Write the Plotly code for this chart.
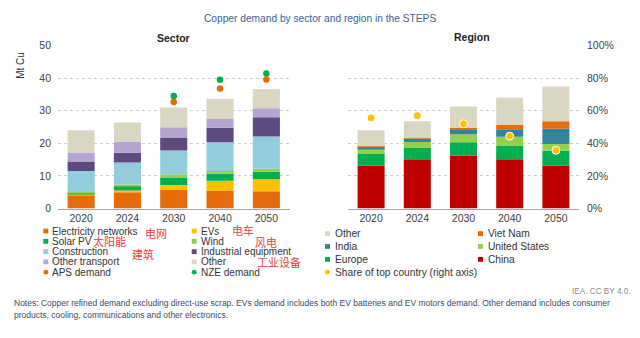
import plotly.graph_objects as go

W, H = 640, 338
def px(x): return x / W
def py(y): return 1 - y / H

years = ["2020", "2024", "2030", "2040", "2050"]

# Sector demand (Mt Cu)
elec_networks = [4.1, 5.0, 5.7, 5.5, 5.3]
evs = [0.2, 0.5, 1.5, 3.0, 3.7]
solar_pv = [0.5, 1.4, 2.3, 2.2, 2.4]
wind = [0.3, 0.5, 1.0, 0.8, 0.8]
construction = [6.4, 6.7, 7.3, 8.8, 9.9]
industrial = [2.9, 3.0, 3.8, 4.5, 5.9]
other_transport = [2.8, 3.4, 3.3, 2.7, 2.8]
other_sector = [6.8, 5.9, 6.1, 6.1, 5.9]
aps_demand = [None, None, 32.7, 36.8, 39.6]
nze_demand = [None, None, 34.5, 39.5, 41.4]

# Region demand (Mt Cu)
china = [13.2, 15.1, 16.2, 15.1, 13.2]
europe = [3.5, 3.5, 4.1, 4.2, 4.5]
united_states = [1.7, 1.8, 2.5, 2.7, 2.1]
india = [0.6, 1.1, 1.5, 2.3, 4.7]
viet_nam = [0.1, 0.2, 0.5, 1.3, 2.3]
other_region = [4.9, 5.1, 6.5, 8.4, 10.6]
share_top = [55.6, 57.0, 52.0, 44.4, 35.7]

pct_ticks = [0, 20, 40, 60, 80, 100]
pct_labels = ["0%", "20%", "40%", "60%", "80%", "100%"]

C_ORANGE = "#E46C0A"
C_YELLOW = "#FFC000"
C_GREEN = "#00B050"
C_LGREEN = "#92D050"
C_LBLUE = "#93CDDD"
C_DPURPLE = "#5C4A80"
C_LPURPLE = "#B3A5CF"
C_BEIGE = "#D9D6C4"
C_INDIA = "#31849B"
C_CHINA = "#C00000"

fig = go.Figure()

sector_series = [
    ("Electricity networks", elec_networks, C_ORANGE),
    ("EVs", evs, C_YELLOW),
    ("Solar PV", solar_pv, C_GREEN),
    ("Wind", wind, C_LGREEN),
    ("Construction", construction, C_LBLUE),
    ("Industrial equipment", industrial, C_DPURPLE),
    ("Other transport", other_transport, C_LPURPLE),
    ("Other", other_sector, C_BEIGE),
]
for name, vals, col in sector_series:
    fig.add_trace(go.Bar(x=years, y=vals, name=name, marker=dict(color=col, line=dict(width=0)),
                         xaxis="x", yaxis="y", showlegend=False))
fig.add_trace(go.Scatter(x=years, y=aps_demand, mode="markers", name="APS demand",
                         marker=dict(color=C_ORANGE, size=6.5), xaxis="x", yaxis="y", showlegend=False))
fig.add_trace(go.Scatter(x=years, y=nze_demand, mode="markers", name="NZE demand",
                         marker=dict(color=C_GREEN, size=6.5), xaxis="x", yaxis="y", showlegend=False))

region_series = [
    ("China", china, C_CHINA),
    ("Europe", europe, C_GREEN),
    ("United States", united_states, C_LGREEN),
    ("India", india, C_INDIA),
    ("Viet Nam", viet_nam, C_ORANGE),
    ("Other", other_region, C_BEIGE),
]
for name, vals, col in region_series:
    fig.add_trace(go.Bar(x=years, y=vals, name=name, marker=dict(color=col, line=dict(width=0)),
                         xaxis="x2", yaxis="y2", showlegend=False))
fig.add_trace(go.Scatter(x=years, y=share_top, mode="markers", name="Share of top country (right axis)",
                         marker=dict(color=C_YELLOW, size=8, line=dict(color="white", width=1)),
                         xaxis="x2", yaxis="y3", showlegend=False))

FONT = "Liberation Sans, Arial, sans-serif"
tickfont = dict(family=FONT, size=10.5, color="#404040")
ydom = [py(210), py(41)]

fig.update_layout(
    width=W, height=H, margin=dict(l=0, r=0, t=0, b=0),
    paper_bgcolor="white", plot_bgcolor="white",
    barmode="relative", bargap=0.415,
    font=dict(family=FONT, color="#404040"),
    xaxis=dict(domain=[px(58), px(289.5)], type="category", range=[-0.5, 4.5],
               showline=True, linecolor="#A6A6A6", linewidth=1, ticks="", tickfont=tickfont,
               showgrid=False, fixedrange=True),
    yaxis=dict(domain=ydom, range=[0, 50], tickvals=[0, 10, 20, 30, 40, 50],
               showgrid=True, gridcolor="#CDCDCD", griddash="dot", gridwidth=1,
               zeroline=False, showline=False, ticks="", tickfont=tickfont,
               ticklabelstandoff=6, anchor="x"),
    xaxis2=dict(domain=[px(348), px(579)], type="category", range=[-0.5, 4.5],
                showline=True, linecolor="#A6A6A6", linewidth=1, ticks="", tickfont=tickfont,
                showgrid=False, anchor="y2"),
    yaxis2=dict(domain=ydom, range=[0, 50], showticklabels=False, showgrid=False,
                zeroline=False, anchor="x2"),
    yaxis3=dict(range=[0, 100], overlaying="y2", side="right", anchor="x2",
                tickmode="array", tickvals=pct_ticks, ticktext=pct_labels,
                showgrid=True, gridcolor="#CDCDCD", griddash="dot", gridwidth=1,
                zeroline=False, ticks="", tickfont=tickfont, ticklabelstandoff=7),
)

ann = []
def text(x, y, s, size=10, color="#333333", xanchor="left", bold=False, family=FONT, yanchor="middle", angle=0):
    ann.append(dict(x=px(x), y=py(y), xref="paper", yref="paper", text=("<b>%s</b>" % s) if bold else s,
                    showarrow=False, xanchor=xanchor, yanchor=yanchor, textangle=angle,
                    font=dict(family=family, size=size, color=color)))

text(320, 13, "Copper demand by sector and region in the STEPS", size=10.2, color="#3A5F8F", xanchor="center")
text(173, 33, "Sector", size=10.5, color="#222222", xanchor="center", bold=True)
text(472, 32, "Region", size=10.5, color="#222222", xanchor="center", bold=True)
text(21, 62, "Mt Cu", size=10, color="#333333", xanchor="center", angle=-90)

shapes = []
def square(x, y, col, s=5):
    shapes.append(dict(type="rect", xref="paper", yref="paper", x0=px(x - s / 2), x1=px(x + s / 2),
                       y0=py(y + s / 2), y1=py(y - s / 2), fillcolor=col, line=dict(width=0)))
def dot(x, y, col, s=5):
    shapes.append(dict(type="circle", xref="paper", yref="paper", x0=px(x - s / 2), x1=px(x + s / 2),
                       y0=py(y + s / 2), y1=py(y - s / 2), fillcolor=col, line=dict(width=0)))

# Left legend
rows_l = [233.3, 244, 254.7, 265.3, 276]
left_leg = [
    [("Electricity networks", C_ORANGE, "sq"), ("EVs", C_YELLOW, "sq")],
    [("Solar PV", C_GREEN, "sq"), ("Wind", C_LGREEN, "sq")],
    [("Construction", C_LBLUE, "sq"), ("Industrial equipment", C_DPURPLE, "sq")],
    [("Other transport", C_LPURPLE, "sq"), ("Other", C_BEIGE, "sq")],
    [("APS demand", C_ORANGE, "dot"), ("NZE demand", C_GREEN, "dot")],
]
for r, row in enumerate(left_leg):
    for c, (lab, col, kind) in enumerate(row):
        mx = 45.8 if c == 0 else 194.2
        (square if kind == "sq" else dot)(mx, rows_l[r], col)
        text(mx + 4.5, rows_l[r], lab, size=10, color="#333333")

# Right legend
rows_r = [236, 249.3, 262.7, 276]
right_leg = [
    [("Other", C_BEIGE, "sq"), ("Viet Nam", C_ORANGE, "sq")],
    [("India", C_INDIA, "sq"), ("United States", C_LGREEN, "sq")],
    [("Europe", C_GREEN, "sq"), ("China", C_CHINA, "sq")],
    [("Share of top country (right axis)", C_YELLOW, "dot")],
]
for r, row in enumerate(right_leg):
    for c, (lab, col, kind) in enumerate(row):
        mx = 327.5 if c == 0 else 480.5
        (square if kind == "sq" else dot)(mx, rows_r[r], col)
        text(mx + 5, rows_r[r], lab, size=10.2, color="#333333")

# Chinese handwritten-style labels
RED = "#E8403A"
CJK = "Noto Sans CJK SC"
text(143, 235.5, "电网", size=11, color=RED, family=CJK)
text(230, 232, "电车", size=11, color=RED, family=CJK)
text(91, 244, "太阳能", size=11, color=RED, family=CJK)
text(253, 244.5, "风电", size=11, color=RED, family=CJK)
text(130, 257, "建筑", size=11, color=RED, family=CJK)
text(255, 265.5, "工业设备", size=11, color=RED, family=CJK)

text(633, 296.5, "IEA. CC BY 4.0.", size=8.2, color="#8A8A8A", xanchor="right")
text(12, 308, "Notes: Copper refined demand excluding direct-use scrap. EVs demand includes both EV batteries and EV motors demand. Other demand includes consumer",
     size=8.5, color="#3B4A63")
text(12, 320, "products, cooling, communications and other electronics.", size=8.5, color="#3B4A63")

fig.update_layout(annotations=ann, shapes=shapes)
fig.write_html("out.html")
